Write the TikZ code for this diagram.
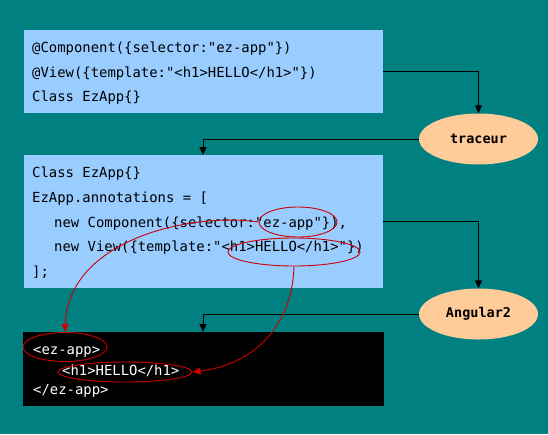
\documentclass[tikz,border=0pt]{standalone}
\usepackage{fontspec}
\setmonofont{DejaVu Sans Mono}
\usetikzlibrary{arrows.meta,shapes.geometric}
\definecolor{bgteal}{HTML}{008080}
\definecolor{boxblue}{HTML}{99CCFF}
\definecolor{peach}{HTML}{FFCC99}
\definecolor{redline}{HTML}{CC0000}
\begin{document}
\begin{tikzpicture}[x=1pt,y=-1pt,
  box/.style={fill=boxblue,draw=none,inner sep=0pt},
  blackbox/.style={fill=black,draw=none,inner sep=0pt},
  code/.style={inner sep=0pt,anchor=base west,font=\ttfamily\fontsize{13.9}{16}\selectfont},
  wcode/.style={code,text=white},
  oval/.style={ellipse,fill=peach,draw=none,minimum width=119pt,minimum height=51pt,inner sep=0pt,font=\ttfamily\bfseries\fontsize{13.5}{16}\selectfont},
  conn/.style={draw=black,line width=1pt,-{Triangle[length=8pt,width=7pt]}},
  redell/.style={ellipse,draw=redline,line width=0.9pt,inner sep=0pt},
  redarr/.style={draw=redline,line width=0.9pt,-{Triangle[length=8pt,width=7pt]}}
]
\useasboundingbox[fill=bgteal] (0,0) rectangle (548,434);

% boxes
\node[box,minimum width=359pt,minimum height=83pt] (b1) at (203.5,71.5) {};
\node[box,minimum width=359pt,minimum height=133pt] (b2) at (203.5,221.5) {};
\node[blackbox,minimum width=361pt,minimum height=74pt] (b3) at (203.5,369) {};

% ellipses
\node[oval] (tr) at (478.5,139) {traceur};
\node[oval] (an) at (478.5,314) {Angular2};

% box 1 text
\node[code] (t11) at (32,52) {@Component(\{selector:"ez-app"\})};
\node[code] (t12) at (32,77) {@View(\{template:"<h1>HELLO</h1>"\})};
\node[code] (t13) at (32,101) {Class EzApp\{\}};

% box 2 text
\node[code] (t21) at (32,177) {Class EzApp\{\}};
\node[code] (t22) at (32,202) {EzApp.annotations = [};
\node[code] (t23) at (54,227) {new Component(\{selector:"ez-app"\}),};
\node[code] (t24) at (54,251) {new View(\{template:"<h1>HELLO</h1>"\})};
\node[code] (t25) at (32,276) {];};

% box 3 text
\node[wcode] (t31) at (33,354) {<ez-app>};
\node[wcode] (t32) at (62,375) {<h1>HELLO</h1>};
\node[wcode] (t33) at (33,394) {</ez-app>};

% red highlight ellipses
\node[redell,minimum width=78pt,minimum height=30pt] (e1) at (298,222) {};
\node[redell,minimum width=132pt,minimum height=28pt] (e2) at (294,252) {};
\node[redell,minimum width=84pt,minimum height=29pt] (e3) at (65,347) {};
\node[redell,minimum width=134pt,minimum height=20pt] (e4) at (125,372) {};

% black connectors
\coordinate (in2) at (203,155);
\coordinate (in3) at (203,332);
\draw[conn] (b1.east) -| (tr.north);
\draw[conn] (tr.west) -| (in2);
\draw[conn] (b2.east) -| (an.north);
\draw[conn] (an.west) -| (in3);

% red connectors
\draw[redarr] (e1.west) .. controls (190,212) and (68,240) .. (e3.north);
\draw[redarr] (e2.south) .. controls (292,330) and (250,365) .. (e4.east);
\end{tikzpicture}
\end{document}
